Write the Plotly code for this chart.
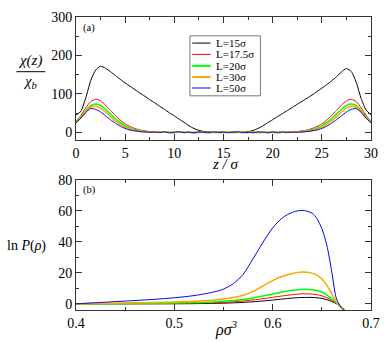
import plotly.graph_objects as go

# ---- panel (a): chi(z)/chi_b profiles ----
z = [0, 0.5, 1, 1.5, 2, 2.5, 3, 3.5, 4, 4.5,
     5, 5.5, 6, 6.5, 7, 7.5, 8, 8.5, 9, 9.5,
     10, 10.5, 11, 11.5, 12, 12.5, 13, 13.5, 14, 14.5,
     15, 15.5, 16, 16.5, 17, 17.5, 18, 18.5, 19, 19.5,
     20, 20.5, 21, 21.5, 22, 22.5, 23, 23.5, 24, 24.5,
     25, 25.5, 26, 26.5, 27, 27.5, 28, 28.5, 29, 29.5,
     30]

chi_L15 = [45, 55, 90, 135, 162, 172, 167, 158, 148, 138,
           128, 120, 111, 102, 94, 85, 77, 68, 60, 51,
           43, 34, 26, 17, 10, 5, 2.5, 1, 0, 1,
           0, 0, 1, 0, 1, 2, 5, 10, 17, 25,
           33, 41, 49, 57, 65, 73, 81, 89, 97, 106,
           115, 124, 134, 145, 157, 166, 158, 130, 88, 58,
           46]
chi_L175 = [29, 44, 64, 80, 86, 82, 71, 57, 44, 32,
            22, 15, 10, 6, 4, 2, 1, 1, 0, 0,
            0, 0.5, 0, -0.5, 0, 0.5, 0, 0, -0.5, 0,
            0.5, 0, 0, 0.5, -0.5, 0, 0, 0.5, 0, 0,
            0, 0, 0, 1, 1, 2, 4, 6, 10, 15,
            22, 32, 44, 57, 71, 82, 86, 80, 64, 44,
            29]
chi_L20 = [27, 40, 57, 70, 74, 70, 60, 48, 36, 26,
           17, 11, 7, 4, 2, 1, 1, 0, 0.5, -0.5,
           0, 0, 0.5, 0, -0.5, 0, 0.5, 0, 0, -0.5,
           0, 0.5, 0, 0, -0.5, 0, 0.5, 0, 0, 0.5,
           0, -0.5, 0, 0, 1, 1, 2, 4, 7, 11,
           17, 26, 36, 48, 60, 70, 74, 70, 57, 40,
           27]
chi_L30 = [26, 38, 54, 66, 68, 63, 53, 41, 30, 21,
           13, 8, 5, 3, 1.5, 1, 0.5, -0.6, 0.9, 0.2,
           -1.0, 1.4, -0.3, 0.5, -0.8, 1.1, 0.0, -1.2, 0.7, 0.3,
           -0.5, 1.0, -0.9, 0.4, 1.2, -0.4, 0.6, -1.1, 0.8, -0.2,
           1.3, -0.7, 0.2, 0.5, 0.5, 1, 1.5, 3, 5, 8,
           13, 21, 30, 41, 53, 63, 68, 66, 54, 38,
           26]
chi_L50 = [25, 37, 52, 62, 60, 53, 43, 33, 24, 16,
           10, 6, 4, 2, 1, 0.5, 0.8, -0.5, 1.2, -1.0,
           0.3, 1.5, -0.8, 0.6, -1.2, 0.9, 0.2, -0.7, 1.1, -0.4,
           0.7, -1.1, 0.5, 1.3, -0.6, 0.1, -0.9, 1.0, 0.4, -1.3,
           0.8, -0.2, 1.2, -0.5, 0.6, 0.5, 1, 2, 4, 6,
           10, 16, 24, 33, 43, 53, 60, 62, 52, 37,
           25]

# ---- panel (b): ln P(rho) ----
rho = [0.40, 0.42, 0.44, 0.46, 0.48, 0.50, 0.52, 0.54, 0.55, 0.56,
       0.57, 0.58, 0.59, 0.60, 0.61, 0.62, 0.63, 0.64, 0.645, 0.65,
       0.655, 0.66, 0.665, 0.67, 0.673]

lnP_L15 = [0, 0, 0, 0, 0, 0, 0.1, 0.3, 0.4, 0.6,
           0.9, 1.3, 1.8, 2.4, 3.1, 3.7, 4.1, 4.1, 3.9, 3.5,
           2.7, 1.5, 0, -2.5, -4]
lnP_L175 = [0, 0, 0.05, 0.1, 0.15, 0.2, 0.4, 0.7, 0.9, 1.3,
            1.8, 2.5, 3.3, 4.2, 5.1, 5.9, 6.4, 6.3, 5.9, 5.2,
            4.0, 2.2, 0.2, -2.5, -4]
lnP_L20 = [0, 0.05, 0.1, 0.2, 0.3, 0.5, 0.8, 1.2, 1.6, 2.1,
           2.8, 3.8, 5.0, 6.3, 7.6, 8.7, 9.3, 9.1, 8.6, 7.6,
           5.8, 3.3, 0.5, -2.5, -4]
lnP_L30 = [0, 0.2, 0.4, 0.6, 0.9, 1.2, 1.7, 2.5, 3.1, 4.0,
           5.5, 8.0, 11.5, 15.0, 17.8, 19.6, 20.5, 19.8, 18.5, 16.0,
           12.0, 6.5, 1.0, -2.5, -4]
lnP_L50 = [0, 0.7, 1.4, 2.1, 2.9, 3.9, 5.3, 7.6, 9.5, 13,
           19, 29, 39.5, 49, 55.5, 59, 60.3, 58.5, 55, 48.5,
           38, 21, 3, -2.5, -4]

labels = ["L=15σ", "L=17.5σ", "L=20σ", "L=30σ", "L=50σ"]
colors = ["#000000", "#ff0000", "#00ff00", "#ffa500", "#0000ff"]
widths = [1, 1, 1.5, 1.5, 1]

top_series = [chi_L15, chi_L175, chi_L20, chi_L30, chi_L50]
bot_series = [lnP_L15, lnP_L175, lnP_L20, lnP_L30, lnP_L50]

W, H = 390, 342
ML, MR, MT, MB = 76, 17, 10, 32


def px(x):
    # pixel -> paper x
    return (x - ML) / (W - ML - MR)


def py(y):
    # pixel -> paper y
    return (H - MB - y) / (H - MT - MB)


SERIF = "Liberation Serif"

fig = go.Figure()

for ys, c, w, name in zip(top_series, colors, widths, labels):
    fig.add_trace(go.Scatter(x=z, y=ys, mode="lines", name=name,
                             line=dict(color=c, width=w, shape="spline", smoothing=0.6),
                             xaxis="x", yaxis="y", showlegend=False))

for ys, c, w, name in zip(bot_series, colors, widths, labels):
    fig.add_trace(go.Scatter(x=rho, y=ys, mode="lines", name=name,
                             line=dict(color=c, width=w, shape="spline", smoothing=0.8),
                             xaxis="x2", yaxis="y2", showlegend=False))

axis_style = dict(
    showline=True, linecolor="#333", linewidth=1, mirror="ticks",
    ticks="inside", ticklen=6, tickwidth=1, tickcolor="#333",
    showgrid=False, zeroline=False,
    tickfont=dict(family=SERIF, size=14, color="black"),
)


def minor(step):
    return dict(ticks="inside", ticklen=3, tickwidth=1, tickcolor="#333", dtick=step, showgrid=False)


fig.update_layout(
    width=W, height=H,
    margin=dict(l=ML, r=MR, t=MT, b=MB),
    paper_bgcolor="white", plot_bgcolor="white",
    font=dict(family=SERIF),
    xaxis=dict(axis_style, domain=[0, 1], anchor="y", range=[0, 30],
               tick0=0, dtick=5, minor=minor(2.5)),
    yaxis=dict(axis_style, domain=[py(136), 1], anchor="x", range=[-20, 300],
               tick0=0, dtick=100, minor=minor(50)),
    xaxis2=dict(axis_style, domain=[0, 1], anchor="y2", range=[0.4, 0.7],
                tick0=0.4, dtick=0.1, tickformat=".1f", minor=minor(0.05)),
    yaxis2=dict(axis_style, domain=[0, py(176.7)], anchor="x2", range=[-4, 80],
                tick0=0, dtick=20, minor=minor(10)),
)

ann = []
shapes = []

# axis titles
ann.append(dict(text="χ(z)", x=px(30), y=py(55), style="italic"))
ann.append(dict(text="χ<sub>b</sub>", x=px(30), y=py(77), style="italic"))
shapes.append(dict(type="line", xref="paper", yref="paper",
                   x0=px(16), x1=px(45), y0=py(66), y1=py(66),
                   line=dict(color="black", width=1)))
ann.append(dict(text="z / σ", x=px(227), y=py(160.5), size=15, style="italic"))
ann.append(dict(text="ln <i>P</i>(<i>ρ</i>)", x=px(26), y=py(244), size=14))
ann.append(dict(text="ρσ<sup>3</sup>", x=px(228), y=py(329), size=16, style="italic"))

# panel labels
ann.append(dict(text="(a)", x=px(89), y=py(21), size=10.5))
ann.append(dict(text="(b)", x=px(90), y=py(187), size=10.5))

# legend (drawn by hand, grace style)
shapes.append(dict(type="rect", xref="paper", yref="paper",
                   x0=px(190.7), x1=px(261.7), y0=py(29.3), y1=py(90.7),
                   line=dict(color="#777", width=1), fillcolor="white", layer="above"))
rows = [36.7, 48.3, 60, 71.5, 82.7]
for r, c, w, name in zip(rows, colors, widths, labels):
    shapes.append(dict(type="line", xref="paper", yref="paper",
                       x0=px(193), x1=px(211.5), y0=py(r), y1=py(r),
                       line=dict(color=c, width=w + 0.5 if w > 1 else w), layer="above"))
    ann.append(dict(text=name, x=px(215), y=py(r), size=11, xanchor="left"))

annotations = []
for a in ann:
    annotations.append(dict(
        text=a["text"], x=a["x"], y=a["y"], xref="paper", yref="paper",
        xanchor=a.get("xanchor", "center"), yanchor="middle", showarrow=False,
        font=dict(family=SERIF, size=a.get("size", 15), color="black",
                  style=a.get("style", "normal")),
    ))

fig.update_layout(annotations=annotations, shapes=shapes)

# drop the default page margin so the figure sits at the window's top-left
fig.write_html("out.html", config={"displayModeBar": False},
               post_script="document.body.style.margin='0';")
